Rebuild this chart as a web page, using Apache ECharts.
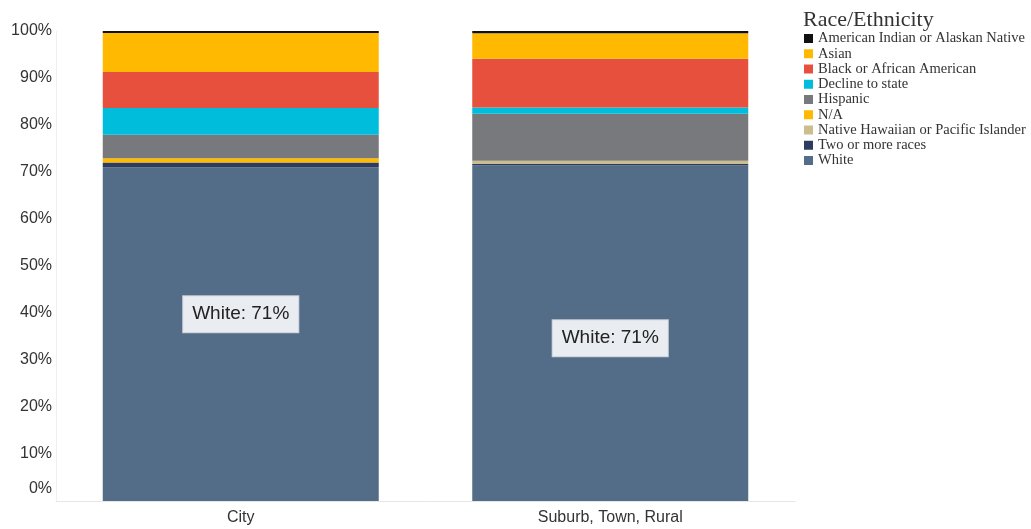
<!DOCTYPE html>
<html>
<head>
<meta charset="utf-8">
<script src="https://cdn.jsdelivr.net/npm/echarts@6/dist/echarts.min.js"></script>
<style>
html,body{margin:0;padding:0;background:#fff;}
#chart{width:1031px;height:529px;}
</style>
</head>
<body>
<div id="chart"></div>
<script>
var categories = ['City', 'Suburb, Town, Rural'];
var legendOrder = ['American Indian or Alaskan Native', 'Asian', 'Black or African American', 'Decline to state', 'Hispanic', 'N/A', 'Native Hawaiian or Pacific Islander', 'Two or more races', 'White'];
// values in percent, [City, Suburb/Town/Rural]
var white = [71.0, 71.4];
var twoOrMore = [1.0, 0.3];
var nativeHawaiian = [0, 0.7];
var na = [0.95, 0];
var hispanic = [4.95, 10.0];
var declineToState = [5.7, 1.3];
var blackAfricanAmerican = [7.7, 10.4];
var asian = [8.3, 5.4];
var americanIndian = [0.4, 0.5];
var yTickLabels = ['0%', '10%', '20%', '30%', '40%', '50%', '60%', '70%', '80%', '90%', '100%'];

var colors = {
  'White': '#536c87',
  'Two or more races': '#2d3c5e',
  'Native Hawaiian or Pacific Islander': '#cbbd8c',
  'N/A': '#ffb900',
  'Hispanic': '#78797d',
  'Decline to state': '#00bddc',
  'Black or African American': '#e8503e',
  'Asian': '#ffb900',
  'American Indian or Alaskan Native': '#111111'
};

var stackSeries = [
  ['White', white],
  ['Two or more races', twoOrMore],
  ['Native Hawaiian or Pacific Islander', nativeHawaiian],
  ['N/A', na],
  ['Hispanic', hispanic],
  ['Decline to state', declineToState],
  ['Black or African American', blackAfricanAmerican],
  ['Asian', asian],
  ['American Indian or Alaskan Native', americanIndian]
];

var labelOffsets = [[0, -20], [0, 5]];

var series = stackSeries.map(function (s) {
  var name = s[0];
  var obj = {
    name: name,
    type: 'bar',
    stack: 'total',
    barWidth: 276,
    itemStyle: { color: colors[name] },
    emphasis: { disabled: true },
    data: s[1].map(function (v, i) {
      var d = { value: v };
      if (name === 'White') {
        d.label = { offset: labelOffsets[i] };
      }
      return d;
    })
  };
  if (name === 'White') {
    obj.label = {
      show: true,
      position: 'inside',
      formatter: function (p) { return 'White: ' + Math.round(p.value) + '%'; },
      fontFamily: 'Liberation Sans',
      fontSize: 19,
      color: '#222',
      backgroundColor: '#e9ecf0',
      borderColor: '#c9ced6',
      borderWidth: 1,
      padding: [9, 9, 8, 9]
    };
  }
  return obj;
});

var chart = echarts.init(document.getElementById('chart'));
chart.setOption({
  animation: false,
  backgroundColor: '#ffffff',
  title: {
    text: 'Race/Ethnicity',
    left: 798,
    top: 4,
    textStyle: { fontFamily: 'Liberation Serif', fontSize: 22, fontWeight: 'normal', color: '#333' }
  },
  legend: {
    data: legendOrder,
    orient: 'vertical',
    left: 799,
    top: 26,
    itemWidth: 9,
    itemHeight: 9,
    itemGap: 0.25,
    icon: 'rect',
    selectedMode: false,
    textStyle: { fontFamily: 'Liberation Serif', fontSize: 14.5, color: '#333', lineHeight: 15 }
  },
  grid: { left: 56, right: 236, top: 31, bottom: 28, containLabel: false },
  xAxis: {
    type: 'category',
    data: categories,
    axisLine: { show: true, lineStyle: { color: '#e6e6e6' } },
    axisTick: { show: false },
    axisLabel: { fontFamily: 'Liberation Sans', fontSize: 16, color: '#333', margin: 9 }
  },
  yAxis: {
    type: 'value',
    min: 0,
    max: 100,
    interval: 10,
    splitLine: { show: false },
    axisTick: { show: false },
    axisLine: { show: true, lineStyle: { color: '#f0f0f0' } },
    axisLabel: {
      fontFamily: 'Liberation Sans',
      fontSize: 16,
      color: '#333',
      margin: 4,
      formatter: function (v) {
        var t = yTickLabels[Math.round(v / 10)];
        return v === 0 ? '{z|' + t + '}' : t;
      },
      rich: { z: { fontFamily: 'Liberation Sans', fontSize: 16, color: '#333', padding: [0, 0, 25, 0] } }
    }
  },
  series: series
});
</script>
</body>
</html>
